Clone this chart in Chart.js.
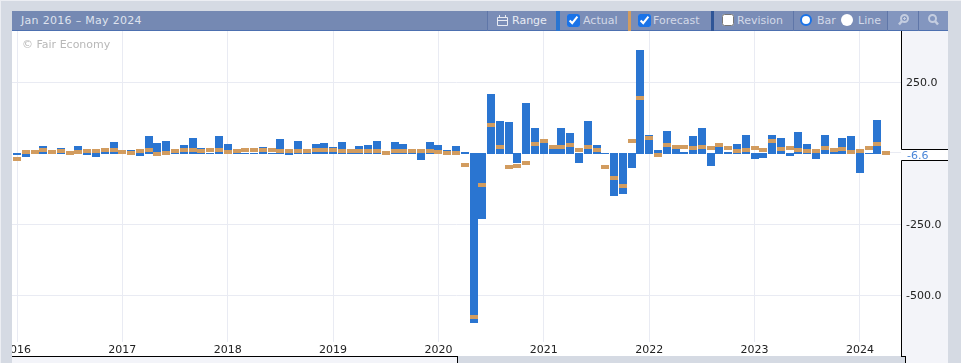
<!DOCTYPE html>
<html><head><meta charset="utf-8">
<script src="https://cdn.jsdelivr.net/npm/chart.js@4"></script>
<style>
html,body{margin:0;padding:0;width:961px;height:363px;overflow:hidden;background:#d5dae3;font-family:"DejaVu Sans",sans-serif;font-size:11px}
.a{position:absolute}
canvas{position:absolute;left:0;top:0;z-index:2}
.hd{z-index:3;top:11px;height:19px;background:#7589b3;border-bottom:1px solid #4d70b0}
.t{position:absolute;top:11px;height:19px;line-height:20px;z-index:4;white-space:nowrap;color:#d3d9e8}
.sep{position:absolute;top:11px;height:20px;width:1px;background:#5f76a8;z-index:4}
.stripe{position:absolute;top:11px;height:20px;z-index:4}
input{position:absolute;margin:0;z-index:4;width:13px;height:13px;top:14px;accent-color:#1a73e8}
.r{position:absolute;z-index:4;top:14px;width:12px;height:12px;border-radius:50%;background:#fff;box-sizing:border-box}
svg{position:absolute;z-index:4}
</style></head><body>
<div class="a" style="left:0;top:0;width:961px;height:1px;background:#eceef3"></div>
<div class="a" style="left:0;top:0;width:1px;height:363px;background:#eceef3"></div>
<div class="a" style="left:12px;top:31px;width:889px;height:325px;background:#fff"></div>
<div class="a" style="left:12px;top:357px;width:445px;height:6px;background:#f3f4f9"></div>
<div class="a" style="left:12px;top:356px;width:446px;height:1px;background:#000"></div>
<div class="a" style="left:457px;top:356px;width:1px;height:7px;background:#000"></div>
<div class="a" style="left:902px;top:31px;width:46px;height:332px;background:#f3f4f9"></div>
<div class="a" style="left:901px;top:356px;width:5px;height:1px;background:#000"></div>
<div class="a" style="left:905px;top:356px;width:1px;height:7px;background:#000"></div>
<div class="a" style="left:901px;top:357px;width:4px;height:6px;background:#d5dae3"></div>
<canvas id="c" width="961" height="363"></canvas>
<div class="a" style="left:1px;top:1px;width:11px;height:362px;background:#d5dae3;z-index:3"></div>
<div class="a hd" style="left:12px;width:936px"></div>
<div class="a" style="left:488px;top:11px;width:460px;height:19px;background:#7a8db7;z-index:3"></div>
<div class="a" style="left:888px;top:11px;width:60px;height:19px;background:#8396bf;z-index:3"></div>
<div class="t" style="left:21px;color:#dfe3ee;letter-spacing:.3px">Jan 2016 – May 2024</div>
<div class="sep" style="left:487px"></div>
<svg style="left:497px;top:14px" width="11" height="12" viewBox="0 0 11 12"><path d="M.5 3.5h10v8H.5zM.5 6.5h10M2.5 1v3M8.5 1v3" fill="none" stroke="#e8ebf3"/></svg>
<div class="t" style="left:512px;color:#e8ebf3">Range</div>
<div class="stripe" style="left:556px;width:4px;background:#2a75d1"></div>
<input type="checkbox" checked style="left:567px">
<div class="t" style="left:583px">Actual</div>
<div class="stripe" style="left:628px;width:3px;background:#d29c5f"></div>
<input type="checkbox" checked style="left:638px">
<div class="t" style="left:653px">Forecast</div>
<div class="stripe" style="left:711px;width:3px;background:#2f5597"></div>
<input type="checkbox" style="left:722px;width:12px;height:12px">
<div class="t" style="left:737px">Revision</div>
<div class="sep" style="left:793px"></div>
<div class="r" style="left:800px;border:2px solid #1a73e8"></div>
<div class="t" style="left:817px">Bar</div>
<div class="r" style="left:841px"></div>
<div class="t" style="left:858px">Line</div>
<div class="sep" style="left:887px"></div>
<svg style="left:898px;top:14px" width="11" height="12" viewBox="0 0 11 12"><circle cx="6.5" cy="4.5" r="3.5" fill="none" stroke="#c4cde0" stroke-width="2"/><path d="M4 7L1 10.500" stroke="#c4cde0" stroke-width="2.500"/><path d="M5 4.500h3M6.500 3v3" stroke="#c4cde0"/></svg>
<div class="sep" style="left:918px"></div>
<svg style="left:928px;top:14px" width="11" height="12" viewBox="0 0 11 12"><circle cx="4.500" cy="4.500" r="3.500" fill="none" stroke="#c4cde0" stroke-width="2"/><path d="M7 7l3 3.500" stroke="#c4cde0" stroke-width="2.500"/></svg>
<div class="a" style="left:22px;top:38px;color:#b8b8b8;z-index:4;white-space:nowrap">© Fair Economy</div>
<script>
const yearLabels=["2016","2017","2018","2019","2020","2021","2022","2023","2024"];
const yearStartIndex=[0,12,24,36,48,60,72,84,96];
const valueTicks=[250,-250,-500];
const actual=[-5,-12,5,26,3,19,2,26,-5,-12,5,40,
 5,12,-9,62,37,44,3,30,55,19,3,62,
 33,3,3,3,23,3,51,-5,44,3,33,37,
 23,40,3,26,30,44,2,40,33,3,-23,40,
 30,12,26,5,-598,-232,210,115,111,-34,178,90,
 37,16,90,72,-34,115,30,2,-150,-143,-51,364,
 65,12,80,23,5,62,90,-44,23,4,33,65,
 -19,-16,65,55,-9,76,33,-19,65,5,55,62,
 -69,3,118,-6.6];
const forecast=[-18,5,5,12,5,10,2,5,9,9,12,12,
 5,2,9,12,-2,2,9,12,12,9,12,12,
 5,9,12,12,12,12,9,9,9,9,12,12,
 12,9,9,9,9,9,2,9,9,9,9,9,
 5,2,2,-41,-577,-111,102,24,-46,-44,-33,33,
 44,23,23,30,12,23,12,-48,-86,-115,44,196,
 55,-5,30,23,23,19,23,19,30,19,9,12,
 19,12,44,16,19,12,9,9,19,12,16,5,
 9,19,33,2];
const months=actual.map((v,i)=>i);
const lastValue=actual[actual.length-1];

const mark=document.createElement('canvas');
mark.width=8;mark.height=4;
const mc=mark.getContext('2d');mc.fillStyle='#d29c5f';mc.fillRect(0,0,8,4);

const chrome={id:'chrome',
 beforeDatasetsDraw(ch){
  ch.getDatasetMeta(0).data.forEach(el=>{
   const neg=el.y>el.base;
   el.x=Math.round(el.x);el.y=Math.round(el.y);
   el.base=neg?Math.floor(el.base):Math.ceil(el.base);
  });
  ch.getDatasetMeta(1).data.forEach(el=>{el.x=Math.round(el.x);el.y=Math.round(el.y);});
  const c=ch.ctx,y=ch.scales.y,x=ch.scales.x,a=ch.chartArea,z=Math.round(y.getPixelForValue(0))-0.5;
  c.save();c.strokeStyle='#e9ebf3';c.beginPath();
  c.moveTo(x.getPixelForValue(months[months.length-1]),z);c.lineTo(a.right,z);c.stroke();c.restore();
 },
 afterDraw(ch){
  const c=ch.ctx,y=ch.scales.y,a=ch.chartArea;
  const py=Math.round(y.getPixelForValue(lastValue));
  const top=py-6,bot=py+5;
  c.save();
  c.fillStyle='#fff';c.fillRect(a.right,top,47,bot-top);
  c.strokeStyle='#000';c.lineWidth=1;c.beginPath();
  c.moveTo(a.right+.5,31);c.lineTo(a.right+.5,top+.5);c.lineTo(948,top+.5);
  c.moveTo(948,bot+.5);c.lineTo(a.right+.5,bot+.5);c.lineTo(a.right+.5,357);
  c.stroke();
  c.fillStyle='#4a86d8';c.font='11px "DejaVu Sans"';c.textBaseline='middle';c.textAlign='left';
  c.fillText(lastValue.toFixed(1),907,py+1);
  c.restore();
 }};

new Chart(document.getElementById('c'),{
 type:'bar',
 data:{datasets:[
  {type:'bar',label:'Actual',order:1,data:months.map(i=>({x:i,y:actual[i]})),backgroundColor:'#2a75d1',barThickness:8,borderWidth:0,inflateAmount:0},
  {type:'scatter',label:'Forecast',order:0,data:months.map(i=>({x:i,y:forecast[i]})),pointStyle:mark,pointRadius:4,pointHoverRadius:4,showLine:false}
 ]},
 options:{
  responsive:false,animation:false,devicePixelRatio:1,
  events:[],
  layout:{padding:{left:12,top:31,right:13,bottom:7}},
  plugins:{legend:{display:false},tooltip:{enabled:false}},
  scales:{
   x:{type:'linear',offset:false,min:-0.57,max:100.68,
    grid:{color:'#e9ebf3',offset:false,drawTicks:false,lineWidth:1},
    border:{display:false},
    afterBuildTicks(s){s.ticks=yearStartIndex.map(v=>({value:v}));},
    afterFit(s){s.height=14;s.paddingLeft=0;s.paddingRight=0;},
    ticks:{autoSkip:false,maxRotation:0,minRotation:0,padding:2,color:'#222',font:{family:'"DejaVu Sans"',size:11},
     callback(v){return yearLabels[yearStartIndex.indexOf(v)];}}
   },
   y:{position:'right',min:-663.7,max:431.3,
    grid:{color:'#e9ebf3',drawTicks:false,lineWidth:1},
    border:{display:false},
    afterBuildTicks(s){s.ticks=valueTicks.map(v=>({value:v}));},
    afterFit(s){s.width=47;s.paddingTop=0;s.paddingBottom=0;},
    ticks:{padding:5,labelOffset:1,color:'#222',font:{family:'"DejaVu Sans"',size:11},callback(v){return v.toFixed(1);}}
   }
  }
 },
 plugins:[chrome]
});
</script>
</body></html>
